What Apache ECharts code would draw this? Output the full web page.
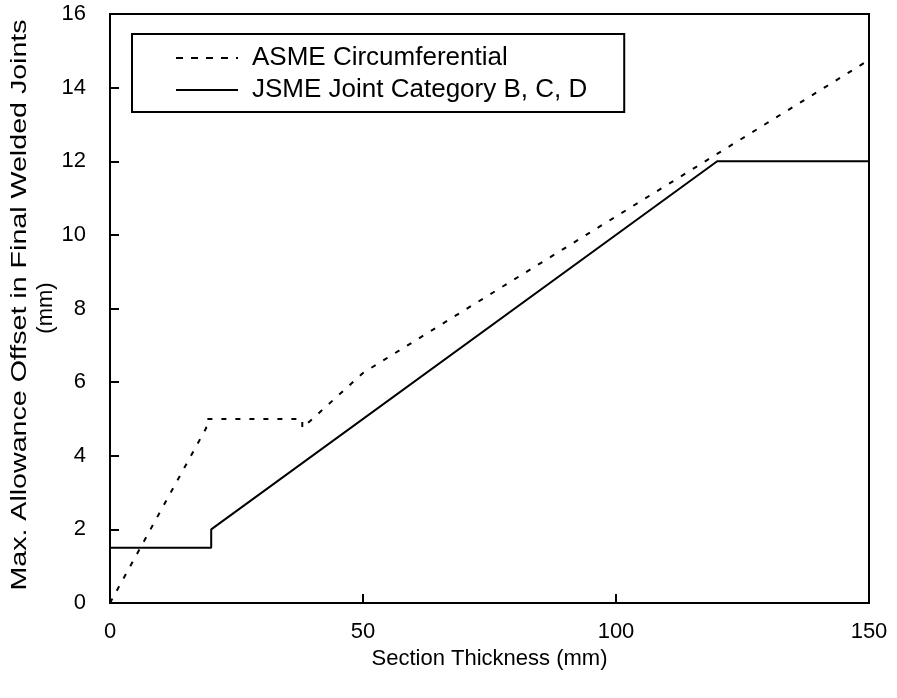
<!DOCTYPE html>
<html>
<head>
<meta charset="utf-8">
<script src="https://cdn.jsdelivr.net/npm/echarts@6/dist/echarts.min.js"></script>
<style>html,body{margin:0;padding:0;background:#fff}#c{width:897px;height:698px}</style>
</head>
<body>
<div id="c"></div>
<script>
const asmeX = [0, 19, 19, 38, 38, 50, 150];
const asmeY = [0, 4.75, 5, 5, 4.75, 6.25, 14.75];
const jsmeX = [0, 20, 20, 120, 150];
const jsmeY = [1.5, 1.5, 2, 12, 12];
const seriesNames = ['ASME Circumferential', 'JSME Joint Category B, C, D'];
const xTitle = 'Section Thickness (mm)';
const yTitleLines = ['Max. Allowance Offset in Final Welded Joints', '(mm)'];

const font = 'Liberation Sans, Arial, sans-serif';
const chart = echarts.init(document.getElementById('c'), null, {renderer: 'canvas'});
chart.setOption({
  animation: false,
  backgroundColor: '#fff',
  grid: {left: 110, right: 28, top: 14, bottom: 95, show: true, borderColor: '#000', borderWidth: 2,
         outerBoundsMode: 'none', containLabel: false},
  graphic: [
    {type: 'text', x: 20, y: 305, rotation: Math.PI / 2, scaleX: 1.3, scaleY: 1,
     style: {text: yTitleLines[0], fontFamily: font, fontSize: 22, fill: '#000', align: 'center', verticalAlign: 'middle'}},
    {type: 'text', x: 46, y: 308, rotation: Math.PI / 2,
     style: {text: yTitleLines[1], fontFamily: font, fontSize: 22, fill: '#000', align: 'center', verticalAlign: 'middle'}}
  ],
  legend: {
    orient: 'vertical', left: 132, top: 34,
    padding: [11, 37, 9, 43], itemGap: 6,
    itemWidth: 62, itemHeight: 2,
    borderColor: '#000', borderWidth: 2, backgroundColor: '#fff',
    itemStyle: {color: 'rgba(0,0,0,0)', borderWidth: 0, opacity: 0},
    textStyle: {fontFamily: font, fontSize: 26, color: '#000', padding: [0, 0, 0, 9]},
    data: [
      {name: seriesNames[0], lineStyle: {type: [7, 8]}},
      {name: seriesNames[1]}
    ]
  },
  xAxis: {
    type: 'value', min: 0, max: 150, interval: 50,
    name: xTitle, nameLocation: 'middle', nameGap: 43,
    nameTextStyle: {fontFamily: font, fontSize: 22, color: '#000'},
    axisLine: {show: true, lineStyle: {color: '#000', width: 2}},
    axisTick: {show: true, inside: true, length: 9, lineStyle: {color: '#000', width: 2}},
    axisLabel: {fontFamily: font, fontSize: 22, color: '#000', margin: 18},
    splitLine: {show: false}
  },
  yAxis: {
    type: 'value', min: 0, max: 16, interval: 2,
    axisLine: {show: true, lineStyle: {color: '#000', width: 2}},
    axisTick: {show: true, inside: true, length: 9, lineStyle: {color: '#000', width: 2}},
    axisLabel: {fontFamily: font, fontSize: 22, color: '#000', margin: 24},
    splitLine: {show: false}
  },
  series: [
    {
      name: seriesNames[0], type: 'line', symbol: 'none',
      data: asmeX.map((x, i) => [x, asmeY[i]]),
      lineStyle: {color: '#000', width: 2, type: [5, 9]},
      itemStyle: {color: '#000'}
    },
    {
      name: seriesNames[1], type: 'line', symbol: 'none',
      data: jsmeX.map((x, i) => [x, jsmeY[i]]),
      lineStyle: {color: '#000', width: 2, type: 'solid'},
      itemStyle: {color: '#000'}
    }
  ]
});
</script>
</body>
</html>
